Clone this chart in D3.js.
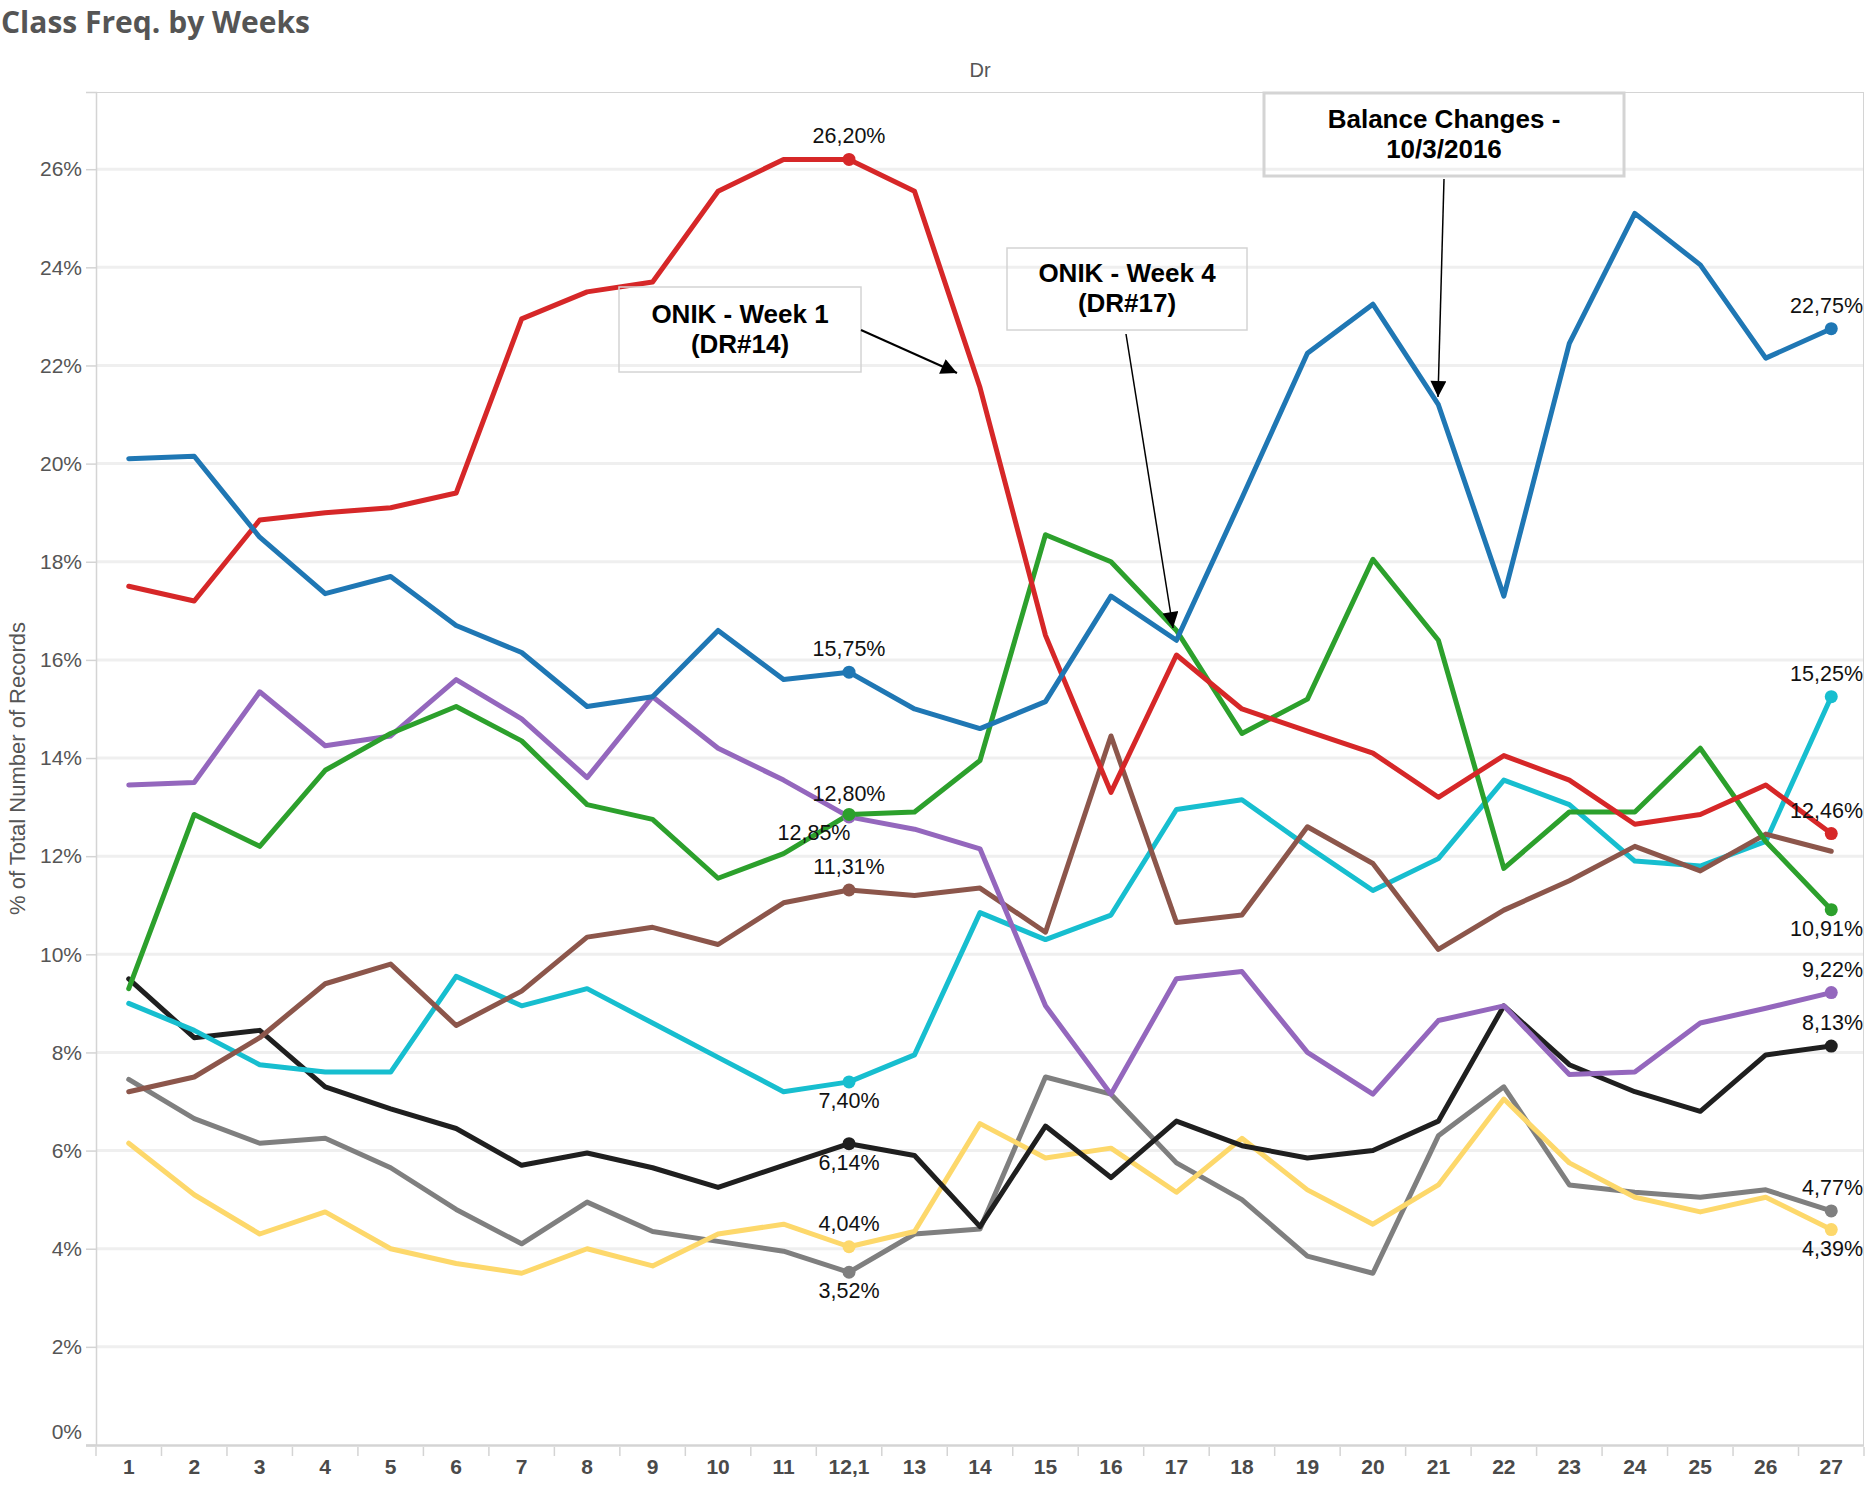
<!DOCTYPE html>
<html>
<head>
<meta charset="utf-8">
<script src="https://cdn.jsdelivr.net/npm/d3@7"></script>
<style>
  html, body { margin: 0; padding: 0; background: #fff; }
  svg { display: block; }
</style>
</head>
<body>
<svg id="chart" width="1868" height="1488"></svg>
<script>
// ---------------- DATA ----------------
const weeks = ["1","2","3","4","5","6","7","8","9","10","11","12,1","13","14","15","16","17","18","19","20","21","22","23","24","25","26","27"];

const blueValues   = [20.1,20.15,18.5,17.35,17.7,16.7,16.15,15.05,15.25,16.6,15.6,15.75,15.0,14.6,15.15,17.3,16.4,19.3,22.25,23.25,21.2,17.3,22.45,25.1,24.05,22.15,22.75];
const redValues    = [17.5,17.2,18.85,19.0,19.1,19.4,22.95,23.5,23.7,25.55,26.2,26.2,25.55,21.55,16.5,13.3,16.1,15.0,14.55,14.1,13.2,14.05,13.55,12.65,12.85,13.45,12.46];
const greenValues  = [9.3,12.85,12.2,13.75,14.5,15.05,14.35,13.05,12.75,11.55,12.05,12.85,12.9,13.95,18.55,18.0,16.6,14.5,15.2,18.05,16.4,11.75,12.9,12.9,14.2,12.3,10.91];
const purpleValues = [13.45,13.5,15.35,14.25,14.45,15.6,14.8,13.6,15.25,14.2,13.55,12.8,12.55,12.15,8.95,7.15,9.5,9.65,8.0,7.15,8.65,8.95,7.55,7.6,8.6,8.9,9.22];
const brownValues  = [7.2,7.5,8.3,9.4,9.8,8.55,9.25,10.35,10.55,10.2,11.05,11.31,11.2,11.35,10.45,14.45,10.65,10.8,12.6,11.85,10.1,10.9,11.5,12.2,11.7,12.45,12.1];
const cyanValues   = [9.0,8.45,7.75,7.6,7.6,9.55,8.95,9.3,8.6,7.9,7.2,7.4,7.95,10.85,10.3,10.8,12.95,13.15,12.2,11.3,11.95,13.55,13.05,11.9,11.8,12.3,15.25];
const blackValues  = [9.5,8.3,8.45,7.3,6.85,6.45,5.7,5.95,5.65,5.25,5.7,6.14,5.9,4.45,6.5,5.45,6.6,6.1,5.85,6.0,6.6,8.95,7.75,7.2,6.8,7.95,8.13];
const grayValues   = [7.45,6.65,6.15,6.25,5.65,4.8,4.1,4.95,4.35,4.15,3.95,3.52,4.3,4.4,7.5,7.15,5.75,5.0,3.85,3.5,6.3,7.3,5.3,5.15,5.05,5.2,4.77];
const yellowValues = [6.15,5.1,4.3,4.75,4.0,3.7,3.5,4.0,3.65,4.3,4.5,4.04,4.35,6.55,5.85,6.05,5.15,6.25,5.2,4.5,5.3,7.05,5.75,5.05,4.75,5.05,4.39];

const yTicks = [0,2,4,6,8,10,12,14,16,18,20,22,24,26];

// series: name, values, colour, label placement at week "12,1" and week "27"
const series = [
  {name:"gray",   values: grayValues,   color:"#7f7f7f", mid:"below", end:"above"},
  {name:"yellow", values: yellowValues, color:"#fdd86b", mid:"above", end:"below"},
  {name:"black",  values: blackValues,  color:"#1f1f1f", mid:"below", end:"above"},
  {name:"cyan",   values: cyanValues,   color:"#17becf", mid:"below", end:"above"},
  {name:"brown",  values: brownValues,  color:"#8c564b", mid:"above", end:"none"},
  {name:"purple", values: purpleValues, color:"#9467bd", mid:"above", end:"above"},
  {name:"green",  values: greenValues,  color:"#2ca02c", mid:"leftbelow", end:"below"},
  {name:"red",    values: redValues,    color:"#d62728", mid:"above", end:"above"},
  {name:"blue",   values: blueValues,   color:"#1f77b4", mid:"above", end:"above"}
];

const annotations = [
  {lines:["ONIK - Week 1","(DR#14)"], box:[619,287,861,372], from:[861,330], to:[957,373], border:1.5, arrowW:2},
  {lines:["ONIK - Week 4","(DR#17)"], box:[1007,248,1247,330], from:[1126,334], to:[1173,628], border:1.5, arrowW:1.5},
  {lines:["Balance Changes -","10/3/2016"], box:[1264,93,1624,176], from:[1444,179], to:[1438,397], border:3, arrowW:1.5}
];

// ---------------- LAYOUT ----------------
const L = 96, R = 1864, T = 92, B = 1445;
const svg = d3.select("#chart");
const fmt = v => v.toFixed(2).replace(".", ",") + "%";

const x = d3.scaleBand().domain(weeks).range([L, R]).paddingInner(0).paddingOuter(0);
const cx = w => x(w) + x.bandwidth() / 2;
const y = d3.scaleLinear().domain([0, (B - T) / ((B - 169.2) / 26)]).range([B, T]);

// Title
svg.append("text").attr("x", 1).attr("y", 33)
  .style("font-family", "'Open Sans', Lato, sans-serif").style("font-weight", 700)
  .style("font-size", "30px").style("fill", "#555").text("Class Freq. by Weeks");

// Column header
svg.append("text").attr("x", (L + R) / 2).attr("y", 77).attr("text-anchor", "middle")
  .style("font-family", "'Liberation Sans', Arial, sans-serif").style("font-size", "20px")
  .style("fill", "#555").text("Dr");

// Gridlines
svg.append("g").selectAll("line").data(yTicks.filter(d => d > 0)).join("line")
  .attr("x1", L).attr("x2", R).attr("y1", d => y(d)).attr("y2", d => y(d))
  .attr("stroke", "#efefef").attr("stroke-width", 3);

// Pane border (top and right)
svg.append("line").attr("x1", L).attr("x2", R).attr("y1", T + 0.5).attr("y2", T + 0.5)
  .attr("stroke", "#d4d4d4").attr("stroke-width", 1);
svg.append("line").attr("x1", R - 0.5).attr("x2", R - 0.5).attr("y1", T).attr("y2", B)
  .attr("stroke", "#d4d4d4").attr("stroke-width", 1);

// Y axis
const yAxis = svg.append("g").attr("transform", `translate(${L},0)`)
  .call(d3.axisLeft(y).tickValues(yTicks).tickFormat(d => d + "%").tickSize(10).tickPadding(4));
yAxis.select(".domain").attr("stroke", "#d4d4d4").attr("stroke-width", 1.5);
yAxis.selectAll(".tick line").attr("stroke", "#d4d4d4").attr("stroke-width", 1.5);
yAxis.selectAll(".tick text").style("font-family", "'Liberation Sans', Arial, sans-serif")
  .style("font-size", "21px").style("fill", "#555")
  .attr("dy", d => d === 0 ? "-0.3em" : "0.32em");

// Y axis title
svg.append("text").attr("transform", `translate(25,${(T + B) / 2}) rotate(-90)`)
  .attr("text-anchor", "middle")
  .style("font-family", "'Liberation Sans', Arial, sans-serif").style("font-size", "22px")
  .style("fill", "#555").text("% of Total Number of Records");

// X axis
const xAxis = svg.append("g").attr("transform", `translate(0,${B})`)
  .call(d3.axisBottom(x).tickSize(0).tickPadding(14));
xAxis.select(".domain").remove();
xAxis.selectAll(".tick text").style("font-family", "'Liberation Sans', Arial, sans-serif")
  .style("font-weight", 700).style("font-size", "21px").style("fill", "#4a4a4a");
svg.append("line").attr("x1", L - 10).attr("x2", R).attr("y1", B + 0.5).attr("y2", B + 0.5)
  .attr("stroke", "#d4d4d4").attr("stroke-width", 2.5);
svg.append("g").selectAll("line").data(d3.range(weeks.length + 1)).join("line")
  .attr("x1", i => L + i * x.step()).attr("x2", i => L + i * x.step())
  .attr("y1", B + 2).attr("y2", B + 11).attr("stroke", "#d4d4d4").attr("stroke-width", 1.5);

// Lines
const line = d3.line().x((d, i) => cx(weeks[i])).y(d => y(d));
const gLines = svg.append("g");
series.forEach(s => {
  gLines.append("path").datum(s.values).attr("d", line)
    .attr("fill", "none").attr("stroke", s.color).attr("stroke-width", 5)
    .attr("stroke-linejoin", "round").attr("stroke-linecap", "round");
});

// Markers and labels at week "12,1" and "27"
const midIdx = weeks.indexOf("12,1"), endIdx = weeks.length - 1;
const gMarks = svg.append("g");
const labelStyle = sel => sel.style("font-family", "'Liberation Sans', Arial, sans-serif")
  .style("font-size", "21.5px").style("fill", "#111");
series.forEach(s => {
  gMarks.append("circle").attr("cx", cx(weeks[midIdx])).attr("cy", y(s.values[midIdx]))
    .attr("r", 6.5).attr("fill", s.color);
  // mid label
  const mv = s.values[midIdx];
  let mx = cx(weeks[midIdx]), my;
  if (s.mid === "above") my = y(mv) - 16;
  else if (s.mid === "below") my = y(mv) + 26;
  else { mx -= 35; my = y(mv) + 26; }
  gMarks.append("text").attr("x", mx).attr("y", my).attr("text-anchor", "middle")
    .call(labelStyle).text(fmt(mv));
  // end label
  if (s.end !== "none") {
    const ev = s.values[endIdx];
    gMarks.append("circle").attr("cx", cx(weeks[endIdx])).attr("cy", y(ev))
      .attr("r", 6.5).attr("fill", s.color);
    const ey = s.end === "above" ? y(ev) - 16 : y(ev) + 26;
    gMarks.append("text").attr("x", R - 1).attr("y", ey).attr("text-anchor", "end")
      .call(labelStyle).text(fmt(ev));
  }
});

// Annotations
const defs = svg.append("defs");
defs.append("marker").attr("id", "arrow").attr("viewBox", "0 0 10 10")
  .attr("refX", 10).attr("refY", 5).attr("markerUnits", "userSpaceOnUse")
  .attr("markerWidth", 18).attr("markerHeight", 16).attr("orient", "auto")
  .append("path").attr("d", "M0,0 L10,5 L0,10 Z").attr("fill", "#000");

const gAnn = svg.append("g");
annotations.forEach(a => {
  const [x0, y0, x1, y1] = a.box;
  gAnn.append("rect").attr("x", x0).attr("y", y0).attr("width", x1 - x0).attr("height", y1 - y0)
    .attr("fill", "none").attr("stroke", "#d4d4d4").attr("stroke-width", a.border);
  const midY = (y0 + y1) / 2;
  a.lines.forEach((t, k) => {
    gAnn.append("text").attr("x", (x0 + x1) / 2).attr("y", midY + (k - 0.5) * 30 + 8)
      .attr("text-anchor", "middle")
      .style("font-family", "'Liberation Sans', Arial, sans-serif").style("font-weight", 700)
      .style("font-size", "26px").style("fill", "#000").text(t);
  });
  gAnn.append("line").attr("x1", a.from[0]).attr("y1", a.from[1]).attr("x2", a.to[0]).attr("y2", a.to[1])
    .attr("stroke", "#000").attr("stroke-width", a.arrowW).attr("marker-end", "url(#arrow)");
});
</script>
</body>
</html>
